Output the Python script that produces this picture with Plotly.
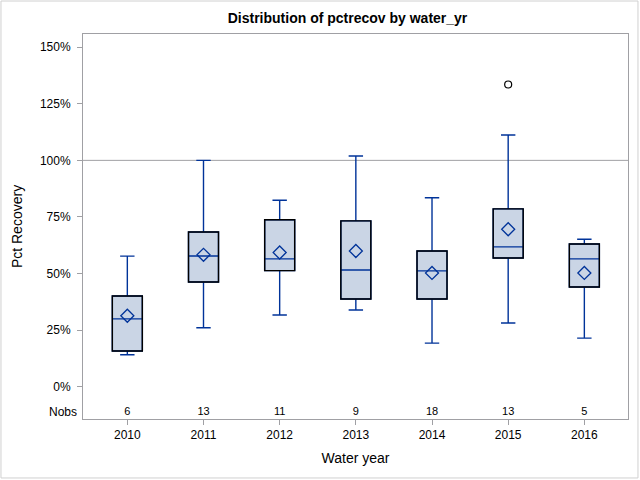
import plotly.graph_objects as go

years = ["2010", "2011", "2012", "2013", "2014", "2015", "2016"]
nobs = [6, 13, 11, 9, 18, 13, 5]
lower_whisker = [0.142, 0.261, 0.317, 0.339, 0.193, 0.282, 0.215]
q1 = [0.158, 0.463, 0.513, 0.388, 0.388, 0.569, 0.441]
median = [0.300, 0.578, 0.565, 0.516, 0.512, 0.618, 0.565]
q3 = [0.401, 0.684, 0.738, 0.733, 0.600, 0.786, 0.631]
upper_whisker = [0.577, 1.000, 0.824, 1.019, 0.835, 1.112, 0.652]
mean = [0.314, 0.583, 0.593, 0.600, 0.503, 0.696, 0.503]
outlier_year = ["2015"]
outlier_val = [1.335]

xpos = list(range(len(years)))
pos = {y: i for i, y in enumerate(years)}

BLUE = "#003399"
FONT = "Liberation Sans, Arial, sans-serif"
BW = 0.394
XR = [-0.582, 6.573]
YR = [-0.142, 1.558]

fig = go.Figure()
# blue whiskers, median and filled box
fig.add_trace(go.Box(
    x=xpos, q1=q1, median=median, q3=q3,
    lowerfence=lower_whisker, upperfence=upper_whisker,
    width=BW, whiskerwidth=0.48,
    fillcolor="#cad5e5", line=dict(color=BLUE, width=1.4),
    boxpoints=False, showlegend=False, hoverinfo="skip",
))
# black box outline drawn on an overlaying subplot so it sits on top
fig.add_trace(go.Bar(
    x=xpos, base=q1, y=[b - a for a, b in zip(q1, q3)], width=BW,
    xaxis="x2", yaxis="y2",
    marker=dict(color="rgba(0,0,0,0)", line=dict(color="black", width=1.4)),
    showlegend=False, hoverinfo="skip",
))
fig.add_trace(go.Scatter(
    x=xpos, y=mean, mode="markers", xaxis="x2", yaxis="y2",
    marker=dict(symbol="diamond-open", size=10, color=BLUE, line=dict(width=1.3, color=BLUE)),
    showlegend=False, hoverinfo="skip",
))
fig.add_trace(go.Scatter(
    x=[pos[y] for y in outlier_year], y=outlier_val, mode="markers",
    marker=dict(symbol="circle-open", size=7, color="black", line=dict(width=1.2, color="black")),
    showlegend=False, hoverinfo="skip",
))
fig.add_trace(go.Scatter(
    x=xpos, y=[-0.11] * len(xpos), mode="text", text=[str(n) for n in nobs],
    textfont=dict(family=FONT, size=11, color="black"), textposition="middle center",
    showlegend=False, hoverinfo="skip",
))

fig.add_shape(type="line", xref="paper", x0=0, x1=1, yref="y", y0=1.0, y1=1.0,
              line=dict(color="#a0a0a4", width=1), layer="below")
fig.add_shape(type="rect", xref="paper", yref="paper",
              x0=-0.1505, x1=1.0183, y0=-0.1532, y1=1.0857,
              line=dict(color="#d0d0d0", width=1))

fig.add_annotation(text="Nobs", xref="paper", yref="y", x=-0.008, y=-0.11,
                   xanchor="right", yanchor="middle", showarrow=False,
                   font=dict(family=FONT, size=12, color="black"))

fig.update_layout(
    width=640, height=480,
    margin=dict(l=83, r=12, t=34, b=61),
    paper_bgcolor="white", plot_bgcolor="white",
    title=dict(text="<b>Distribution of pctrecov by water_yr</b>", x=0.543, xanchor="center",
               y=0.962, yanchor="middle", font=dict(family=FONT, size=14, color="black")),
    font=dict(family=FONT, size=12, color="black"),
    xaxis=dict(range=XR, tickvals=xpos, ticktext=years,
               showgrid=False, zeroline=False, showline=True, mirror=True,
               linecolor="#a0a0a4", linewidth=1, ticks="outside", ticklen=5,
               tickcolor="#a0a0a4", title=dict(text="Water year", standoff=11),
               tickfont=dict(size=12)),
    yaxis=dict(range=YR, tickvals=[0, 0.25, 0.5, 0.75, 1.0, 1.25, 1.5],
               tickformat=".0%", showgrid=False, zeroline=False, showline=True, mirror=True,
               linecolor="#a0a0a4", linewidth=1, ticks="outside", ticklen=5,
               tickcolor="#a0a0a4", ticklabelstandoff=4,
               title=dict(text="Pct Recovery", standoff=13),
               tickfont=dict(size=12)),
    xaxis2=dict(overlaying="x", range=XR, visible=False),
    yaxis2=dict(overlaying="y", range=YR, visible=False),
)

fig.write_html("out.html", config={"displayModeBar": False},
               post_script="document.body.style.margin='0';")
